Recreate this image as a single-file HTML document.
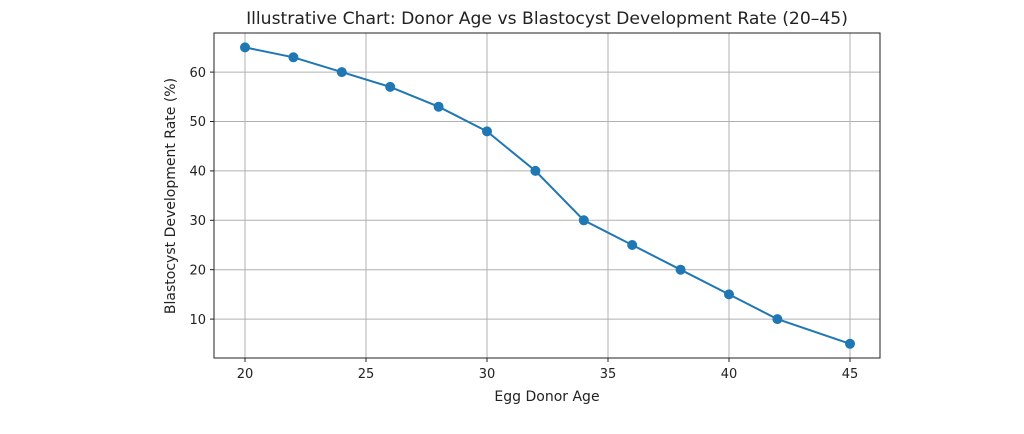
<!DOCTYPE html><html><head><style>body{margin:0;background:#fff}svg{display:block}text{font-family:"DejaVu Sans","Liberation Sans",sans-serif;fill:#222}</style></head><body>
<svg width="1024" height="434" viewBox="0 0 1024 434">
<g stroke="#b0b0b0" stroke-width="1">
<line x1="245" y1="33" x2="245" y2="358"/><line x1="366" y1="33" x2="366" y2="358"/><line x1="487" y1="33" x2="487" y2="358"/><line x1="608" y1="33" x2="608" y2="358"/><line x1="729" y1="33" x2="729" y2="358"/><line x1="850" y1="33" x2="850" y2="358"/>
<line x1="214" y1="319.1" x2="880" y2="319.1"/><line x1="214" y1="269.7" x2="880" y2="269.7"/><line x1="214" y1="220.3" x2="880" y2="220.3"/><line x1="214" y1="170.9" x2="880" y2="170.9"/><line x1="214" y1="121.5" x2="880" y2="121.5"/><line x1="214" y1="72.1" x2="880" y2="72.1"/>
</g>
<rect x="214" y="33" width="666" height="325" fill="none" stroke="#222" stroke-width="1"/>
<g stroke="#222"><line x1="245" y1="358" x2="245" y2="362"/><line x1="366" y1="358" x2="366" y2="362"/><line x1="487" y1="358" x2="487" y2="362"/><line x1="608" y1="358" x2="608" y2="362"/><line x1="729" y1="358" x2="729" y2="362"/><line x1="850" y1="358" x2="850" y2="362"/>
<line x1="210" y1="319.1" x2="214" y2="319.1"/><line x1="210" y1="269.7" x2="214" y2="269.7"/><line x1="210" y1="220.3" x2="214" y2="220.3"/><line x1="210" y1="170.9" x2="214" y2="170.9"/><line x1="210" y1="121.5" x2="214" y2="121.5"/><line x1="210" y1="72.1" x2="214" y2="72.1"/></g>
<g font-size="13" text-anchor="middle"><text x="245" y="378">20</text><text x="366" y="378">25</text><text x="487" y="378">30</text><text x="608" y="378">35</text><text x="729" y="378">40</text><text x="850" y="378">45</text></g>
<g font-size="13" text-anchor="end"><text x="206" y="324">10</text><text x="206" y="274.5">20</text><text x="206" y="225">30</text><text x="206" y="175.5">40</text><text x="206" y="126">50</text><text x="206" y="77">60</text></g>
<text x="547" y="401" font-size="14" text-anchor="middle">Egg Donor Age</text>
<text transform="translate(175,196) rotate(-90)" font-size="14" text-anchor="middle">Blastocyst Development Rate (%)</text>
<text x="547" y="24" font-size="17.2" text-anchor="middle">Illustrative Chart: Donor Age vs Blastocyst Development Rate (20–45)</text>
<polyline fill="none" stroke="#1f77b4" stroke-width="2" points="245,47.4 293.4,57.3 341.8,72.1 390.2,86.9 438.6,106.7 487,131.4 535.4,170.9 583.8,220.3 632.2,245 680.6,269.7 729,294.4 777.4,319.1 850,343.8"/>
<g fill="#1f77b4"><circle cx="245" cy="47.4" r="5"/><circle cx="293.4" cy="57.3" r="5"/><circle cx="341.8" cy="72.1" r="5"/><circle cx="390.2" cy="86.9" r="5"/><circle cx="438.6" cy="106.7" r="5"/><circle cx="487" cy="131.4" r="5"/><circle cx="535.4" cy="170.9" r="5"/><circle cx="583.8" cy="220.3" r="5"/><circle cx="632.2" cy="245" r="5"/><circle cx="680.6" cy="269.7" r="5"/><circle cx="729" cy="294.4" r="5"/><circle cx="777.4" cy="319.1" r="5"/><circle cx="850" cy="343.8" r="5"/></g>
</svg></body></html>
